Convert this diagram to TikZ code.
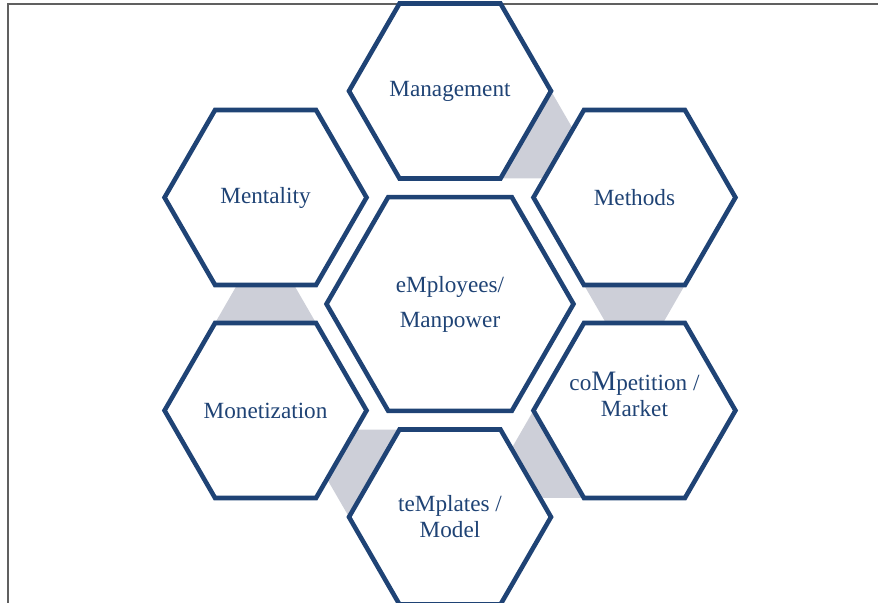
\documentclass[tikz,border=0pt]{standalone}
\usepackage{fontspec}
\setmainfont{Liberation Serif}
\usetikzlibrary{shapes.geometric}

\definecolor{hexblue}{RGB}{31,67,117}
\definecolor{linkgray}{RGB}{205,207,216}
\definecolor{framegray}{RGB}{96,96,96}

\begin{document}
\begin{tikzpicture}[
		hexbox/.style={regular polygon, regular polygon sides=6, draw=hexblue, line width=2.6pt,
			minimum size=4.04cm, inner sep=0pt, text=hexblue, align=center,
			font=\fontsize{13.2}{14.8}\selectfont},
		corehex/.style={hexbox, minimum size=4.94cm, font=\fontsize{13.2}{19.9}\selectfont}]
		\useasboundingbox (-9.0,-5.96) rectangle (8.56,6.08);

		% frame
		\draw[framegray, line width=0.8pt] (8.7,6.0) -- (-8.84,6.0) -- (-8.84,-6.1);

		% grey links between the outer hexagons
		\fill[linkgray] (2.02,4.26) -- (2.46,3.499) -- (1.889,2.511) -- (1.01,2.511) -- cycle;
		\fill[linkgray] (4.699,0.381) -- (4.26,-0.381) -- (3.119,-0.381) -- (2.679,0.381) -- cycle;
		\fill[linkgray] (2.679,-3.879) -- (1.8,-3.879) -- (1.23,-2.891) -- (1.669,-2.13) -- cycle;
		\fill[linkgray] (-2.02,-4.26) -- (-2.46,-3.499) -- (-1.889,-2.511) -- (-1.01,-2.511) -- cycle;
		\fill[linkgray] (-4.699,-0.381) -- (-4.26,0.381) -- (-3.119,0.381) -- (-2.679,-0.381) -- cycle;

		\node[corehex] (core) at (0,0) {eMployees/\\Manpower};

		\node[hexbox] (mgmt) at (0,4.26) {Management};
		\node[hexbox] (meth) at (3.689,2.13) {Methods};
		% text sits a bit above the middle here, zero-size box keeps the hexagon small
		\node[hexbox] (comp) at (3.689,-2.13) {\raisebox{0.15cm}[0pt][0pt]{\makebox[0pt]{\begin{tabular}{@{}c@{}}
			co{\fontsize{16}{16}\selectfont M}petition /\\Market\end{tabular}}}};
		\node[hexbox] (tmpl) at (0,-4.26) {teMplates /\\Model};
		\node[hexbox] (mone) at (-3.689,-2.13) {Monetization};
		\node[hexbox] (ment) at (-3.689,2.13) {Mentality};
	\end{tikzpicture}
\end{document}
